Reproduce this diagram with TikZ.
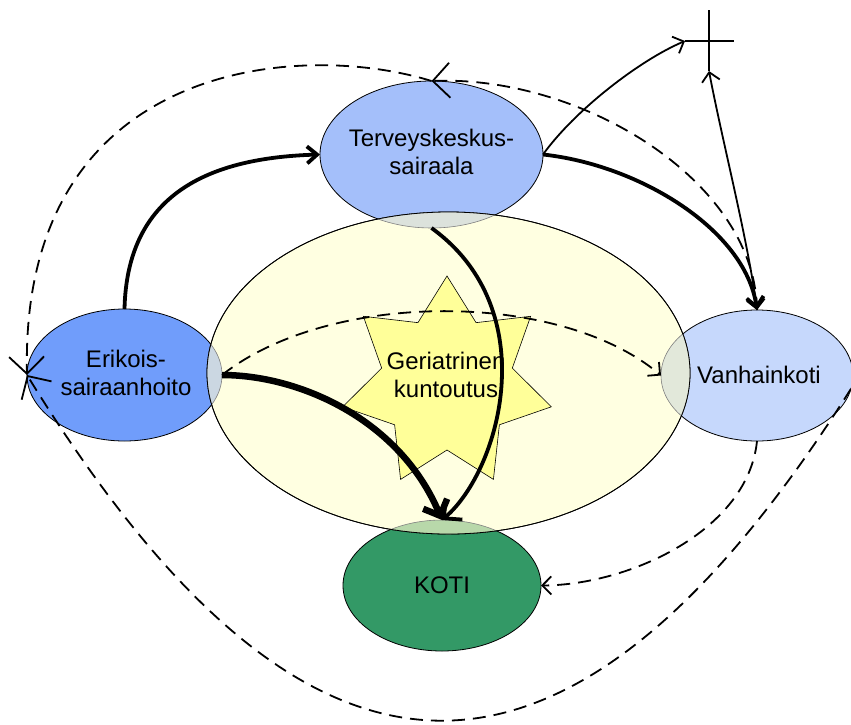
\documentclass[tikz,border=0pt]{standalone}
\usepackage{fontspec}
\setmainfont{Liberation Sans}
\usetikzlibrary{shapes.geometric,arrows.meta}
\definecolor{tcol}{HTML}{A4BFFA}
\definecolor{ecol}{HTML}{709DFB}
\definecolor{vcol}{HTML}{C6D8FC}
\definecolor{kcol}{HTML}{339966}
\definecolor{bigcol}{HTML}{FFFFE1}
\definecolor{starcol}{HTML}{FFFF99}
\definecolor{tov}{HTML}{DCE2DC}
\definecolor{eov}{HTML}{CBD7E2}
\definecolor{vov}{HTML}{E2E8DA}
\definecolor{kov}{HTML}{B8D8AA}
\begin{document}
\begin{tikzpicture}[x=1pt,y=-1pt,
  blob/.style={ellipse, draw, line width=0.8pt, inner sep=0pt, outer sep=0pt},
  lbl/.style={font=\fontsize{24}{28}\selectfont, align=center, inner sep=0pt},
  thinarr/.style={line width=1.8pt},
  thickarr/.style={line width=3.8pt},
  vthickarr/.style={line width=6.5pt},
  dashline/.style={line width=1.8pt, dash pattern=on 13pt off 8pt},
  smallhead/.tip={Straight Barb[length=9pt,width=18pt]},
  midhead/.tip={Straight Barb[length=10pt,width=17pt]},
  bighead/.tip={Straight Barb[length=13pt,width=26pt]},
  widehead/.tip={Straight Barb[length=17pt,width=35pt]}
]
\useasboundingbox (0,0) rectangle (851,724);

% small ellipses
\node[blob, fill=tcol, minimum width=223pt, minimum height=147pt] (T) at (431.5,154.5) {};
\node[blob, fill=ecol, minimum width=195pt, minimum height=132pt] (E) at (124.5,375) {};
\node[blob, fill=vcol, minimum width=192pt, minimum height=131pt] (V) at (757,375.5) {};
\node[blob, fill=kcol, minimum width=198pt, minimum height=131pt] (K) at (442,585.5) {};
% big ellipse
\node[blob, fill=bigcol, minimum width=483pt, minimum height=322pt] (B) at (448.5,373) {};

% overlaps
\begin{scope}
\clip (448.5,373) ellipse [x radius=241.5pt, y radius=161pt];
\fill[tov] (431.5,154.5) ellipse [x radius=111.5pt, y radius=73.5pt];
\fill[eov] (124.5,375) ellipse [x radius=97.5pt, y radius=66pt];
\fill[vov] (757,375.5) ellipse [x radius=96pt, y radius=65.5pt];
\fill[kov] (442,585.5) ellipse [x radius=99pt, y radius=65.5pt];
\draw[gray, line width=0.6pt] (431.5,154.5) ellipse [x radius=111.5pt, y radius=73.5pt];
\draw[gray, line width=0.6pt] (124.5,375) ellipse [x radius=97.5pt, y radius=66pt];
\draw[gray, line width=0.6pt] (757,375.5) ellipse [x radius=96pt, y radius=65.5pt];
\draw[gray, line width=0.6pt] (442,585.5) ellipse [x radius=99pt, y radius=65.5pt];
\end{scope}
\draw[line width=0.8pt] (448.5,373) ellipse [x radius=241.5pt, y radius=161pt];

% star
\begin{scope}[shift={(447,383)}]
\draw[fill=starcol, line width=0.6pt] (90:107pt)
  \foreach \i [evaluate=\i as \r using {mod(\i,2)==1 ? 67 : 107}] in {1,...,13} { -- ({90+\i*360/14}:\r pt) } -- cycle;
\end{scope}

% labels
\node[lbl] (Tt) at (431.5,152.3) {Terveyskeskus-\\sairaala};
\node[lbl] (Et) at (126,373.3) {Erikois-\\sairaanhoito};
\node[lbl, anchor=base] (Vt) at (759,383) {Vanhainkoti};
\node[lbl, anchor=base] (Kt) at (442,593) {KOTI};
\node[lbl] (G) at (446,375.3) {Geriatrinen\\kuntoutus};

% cross and free ends
\coordinate (X) at (709,41);
\coordinate (Xl) at (685,41);
\coordinate (Xb) at (709,71);
\coordinate (P) at (27,375);
\draw[thinarr] (709,10) -- (Xb);
\draw[thinarr] (Xl) -- (734,41);

% solid connectors
\draw[thickarr, -midhead] (E.north) .. controls (127,200) and (200,158) .. (T.west);
\draw[thickarr, -midhead] (T.east) .. controls (640,165) and (745,230) .. (V.north);
\draw[thinarr, -smallhead] (T.east) .. controls (575,110) and (640,60) .. (Xl);
\draw[thinarr, smallhead-smallhead] (Xb) .. controls (722,140) and (748,240) .. (V.north);
\draw[thickarr, -bighead] (T.south) .. controls (545,310) and (500,470) .. (K.north);
\draw[vthickarr, -bighead] (E.east) .. controls (300,375) and (400,420) .. (K.north);

% dashed connectors
\draw[dashline, -smallhead] (E.east) .. controls (330,290) and (560,290) .. (V.west);
\draw[dashline, -smallhead] (V.south) .. controls (748,530) and (630,585) .. (K.east);
\draw[dashline, -widehead] (V.north) .. controls (755,180) and (580,75) .. (T.north);
\draw[dashline, -widehead] (T.north) .. controls (300,40) and (20,60) .. (P);
\draw[dashline, -widehead] (V.-8) .. controls (558,851) and (298,815) .. (P);
\end{tikzpicture}
\end{document}
